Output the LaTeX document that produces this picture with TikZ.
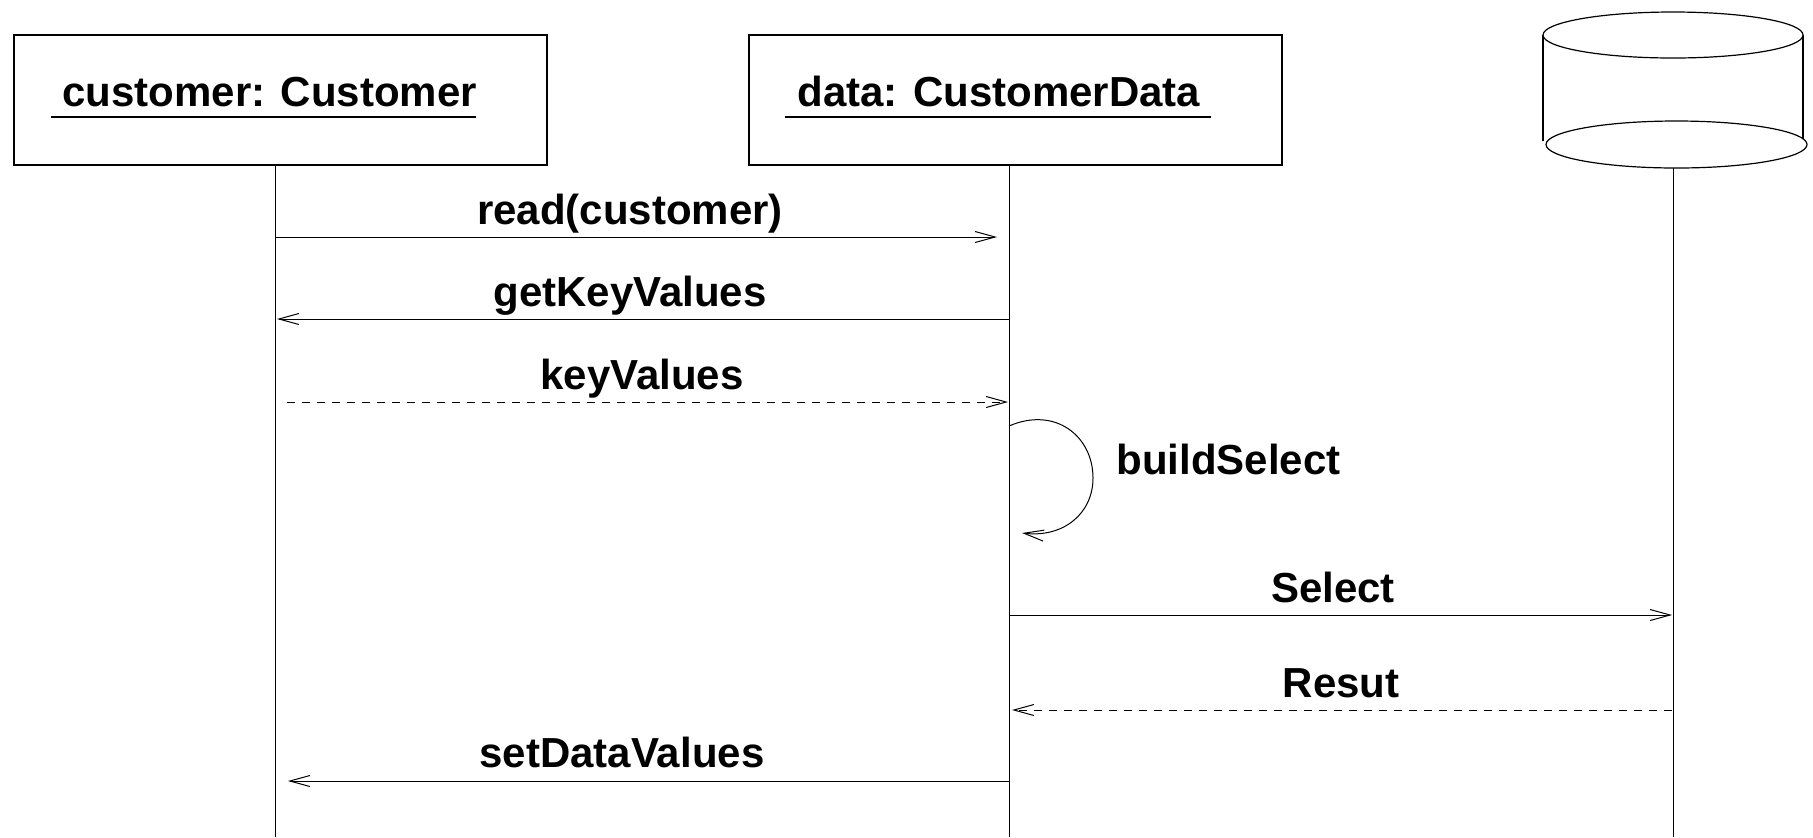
\documentclass[tikz,border=0pt]{standalone}
\usepackage{fontspec}
\setmainfont{Liberation Sans}
\usetikzlibrary{arrows.meta}
\begin{document}
\begin{tikzpicture}[x=0.5pt,y=-0.5pt,
  every node/.style={font=\fontsize{21}{25}\selectfont\bfseries, inner sep=0pt},
  msg/.style={line width=0.5pt, -{Straight Barb[length=10pt,width=5.5pt]}},
  ret/.style={msg, dash pattern=on 4pt off 3.5pt},
  headbox/.style={draw, line width=0.6pt, minimum width=266.5pt, minimum height=65pt},
  life/.style={line width=0.5pt},
  uline/.style={line width=0.6pt},
  lbl/.style={anchor=base}]
\useasboundingbox (0,0) rectangle (1813,837);

% heads
\node[headbox] (cust) at (280.5,100) {};
\node[headbox] (data) at (1015.5,100) {};
\node[anchor=base west] (custt) at (62,106) {customer: Customer};
\node[anchor=base west] (datat) at (797,106) {data: CustomerData};
\draw[uline] (51,117) -- (476,117);
\draw[uline] (785,117) -- (1211,117);

% database cylinder
\draw[line width=0.6pt] (1543,35) -- (1543,141);
\draw[line width=0.6pt] (1803,35) -- (1803,141);
\draw[line width=0.6pt, fill=white] (1673,35) ellipse [x radius=130, y radius=23];
\draw[line width=0.6pt, fill=white] (1676.5,144.5) ellipse [x radius=130.5, y radius=23.5];
\coordinate (db) at (1673,168);

% lifelines
\coordinate (custl) at (275,165);
\coordinate (datal) at (1009,165);
\coordinate (custb) at (275,837);
\coordinate (datab) at (1009,837);
\coordinate (dbb) at (1673,837);
\draw[life] (custl) -- (custb);
\draw[life] (datal) -- (datab);
\draw[life] (db) -- (dbb);

% messages
\coordinate (m1a) at (275,237);  \coordinate (m1b) at (997,237);
\coordinate (m2a) at (1009,319); \coordinate (m2b) at (277,319);
\coordinate (m3a) at (287,402);  \coordinate (m3b) at (1008,402);
\coordinate (m4a) at (1009,426); \coordinate (m4b) at (1022,533);
\coordinate (m5a) at (1009,615); \coordinate (m5b) at (1672,615);
\coordinate (m6a) at (1672,710); \coordinate (m6b) at (1012,710);
\coordinate (m7a) at (1009,781); \coordinate (m7b) at (288,781);

\draw[msg] (m1a) -- (m1b);
\node[lbl] (l1) at (630,224) {read(customer)};
\draw[msg] (m2a) -- (m2b);
\node[lbl] (l2) at (630,306) {getKeyValues};
\draw[ret] (m3a) -- (m3b);
\node[lbl] (l3) at (642,389) {keyValues};
\draw[msg] (m4a) .. controls (1055,406) and (1093,436) .. (1093,478)
  .. controls (1093,513) and (1064,538) .. (m4b);
\node[anchor=base west] (l4) at (1116,474) {buildSelect};
\draw[msg] (m5a) -- (m5b);
\node[lbl] (l5) at (1333,602) {Select};
\draw[ret] (m6a) -- (m6b);
\node[lbl] (l6) at (1341,697) {Resut};
\draw[msg] (m7a) -- (m7b);
\node[lbl] (l7) at (622,767) {setDataValues};
\end{tikzpicture}
\end{document}
